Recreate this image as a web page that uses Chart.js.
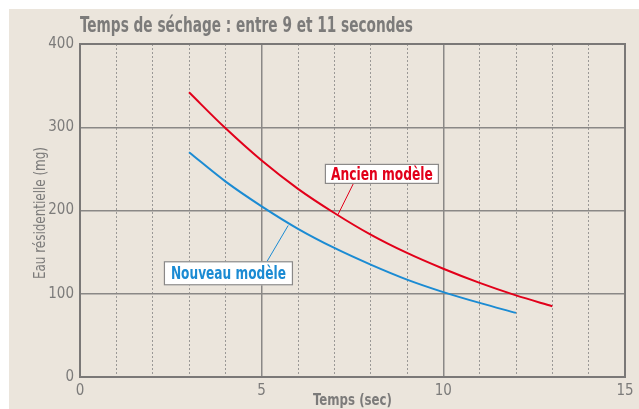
<!DOCTYPE html>
<html><head><meta charset="utf-8">
<script src="https://cdn.jsdelivr.net/npm/chart.js@4"></script>
<style>html,body{margin:0;padding:0;background:#fff}#wrap{width:639px;height:409px}</style>
</head><body><div id="wrap"><canvas id="c" width="639" height="409"></canvas></div>
<script>
const titleText = "Temps de séchage : entre 9 et 11 secondes";
const xTitle = "Temps (sec)";
const yTitle = "Eau résidentielle (mg)";
const xTicks = [0, 5, 10, 15];
const yTicks = [0, 100, 200, 300, 400];
const ancienX = [3, 4, 5, 6, 7, 8, 9, 10, 11, 12, 13];
const ancienY = [342, 299, 260, 226, 197, 171, 149, 130, 113, 98, 85];
const nouveauX = [3, 4, 5, 6, 7, 8, 9, 10, 11, 12];
const nouveauY = [270, 235, 205, 178, 155, 135, 117, 102, 89, 77];
const labelAncien = "Ancien modèle";
const labelNouveau = "Nouveau modèle";

const FONT = "'DejaVu Sans Condensed','Liberation Sans',sans-serif";
const RED = '#e2001a', BLUE = '#1b8bd3', GRAY = '#7c7b7a', BG = '#ebe5dc';

// draw text horizontally compressed to a given width
function narrowText(c, text, x, y, width, align) {
  const w = c.measureText(text).width;
  const sx = Math.min(1, width / w);
  c.save();
  c.translate(x, y);
  c.scale(sx, 1);
  c.textAlign = align;
  c.fillText(text, 0, 0);
  c.restore();
}

const bgPlugin = {
  id: 'bg',
  beforeDraw(chart) {
    const c = chart.ctx;
    c.save();
    c.fillStyle = '#fff'; c.fillRect(0, 0, chart.width, chart.height);
    c.fillStyle = BG; c.fillRect(9, 9, chart.width - 9, chart.height - 9);
    c.fillStyle = GRAY;
    c.font = "bold 21px " + FONT;
    c.textBaseline = 'alphabetic';
    narrowText(c, titleText, 80, 32, 333, 'left');
    // axis titles
    const a = chart.chartArea;
    c.font = "bold 15px " + FONT;
    c.textBaseline = 'middle';
    narrowText(c, xTitle, (a.left + a.right) / 2, 401, 79, 'center');
    c.save();
    c.translate(41, 213);
    c.rotate(-Math.PI / 2);
    c.font = "15px " + FONT;
    narrowText(c, yTitle, 0, 0, 132, 'center');
    c.restore();
    c.restore();
  },
  afterDatasetsDraw(chart) {
    const c = chart.ctx, xs = chart.scales.x, ys = chart.scales.y;
    const a = chart.chartArea;
    c.save();
    c.strokeStyle = '#7a7877'; c.lineWidth = 2;
    c.strokeRect(a.left, a.top, a.right - a.left, a.bottom - a.top);
    function box(text, color, bx, by, bw, bh, tw, lx1, ly1, lx2, ly2) {
      c.strokeStyle = color; c.lineWidth = 1;
      c.beginPath(); c.moveTo(lx1, ly1); c.lineTo(lx2, ly2); c.stroke();
      c.fillStyle = '#fff'; c.fillRect(bx, by, bw, bh);
      c.strokeStyle = '#8a8887'; c.lineWidth = 1.2; c.strokeRect(bx + 0.5, by + 0.5, bw - 1, bh - 1);
      c.fillStyle = color; c.font = "bold 18px " + FONT;
      c.textBaseline = 'middle';
      narrowText(c, text, bx + bw / 2, by + bh / 2 + 1, tw, 'center');
    }
    const ax = xs.getPixelForValue(6.74), ay = ys.getPixelForValue(256);
    box(labelAncien, RED, ax, ay, 114, 20, 102,
        xs.getPixelForValue(7.1), ys.getPixelForValue(195), xs.getPixelForValue(7.52), ay + 20);
    const nx = xs.getPixelForValue(2.31), ny = ys.getPixelForValue(139);
    box(labelNouveau, BLUE, nx, ny, 129, 24, 115,
        xs.getPixelForValue(5.73), ys.getPixelForValue(182), xs.getPixelForValue(5.15), ny);
    c.restore();
  }
};

new Chart(document.getElementById('c'), {
  type: 'scatter',
  data: {
    datasets: [
      { label: labelAncien, data: ancienX.map((x, i) => ({ x, y: ancienY[i] })), showLine: true,
        borderColor: RED, borderWidth: 2, pointRadius: 0, tension: 0.4, cubicInterpolationMode: 'monotone' },
      { label: labelNouveau, data: nouveauX.map((x, i) => ({ x, y: nouveauY[i] })), showLine: true,
        borderColor: BLUE, borderWidth: 2, pointRadius: 0, tension: 0.4, cubicInterpolationMode: 'monotone' }
    ]
  },
  options: {
    responsive: false, animation: false, devicePixelRatio: 1,
    layout: { padding: { left: 0, right: 14, top: 44, bottom: 0 } },
    plugins: { legend: { display: false }, tooltip: { enabled: false }, title: { display: false } },
    scales: {
      x: {
        type: 'linear', min: 0, max: 15,
        afterBuildTicks(s) { s.ticks = Array.from({ length: 16 }, (_, i) => ({ value: i })); },
        afterFit(s) { s.height = 32; },
        ticks: { color: GRAY, font: { family: FONT, size: 15 }, padding: 5, maxRotation: 0, autoSkip: false,
          callback: v => xTicks.includes(v) ? String(v) : '' },
        grid: { drawTicks: false, color: ctx => ctx.tick && ctx.tick.value % 5 === 0 ? '#8a8886' : '#9a9896',
          lineWidth: ctx => ctx.tick && ctx.tick.value % 5 === 0 ? 1.5 : 1 },
        border: { display: false, dash: ctx => ctx.tick && ctx.tick.value % 5 === 0 ? [] : [2, 2] },
        title: { display: false }
      },
      y: {
        type: 'linear', min: 0, max: 400,
        afterBuildTicks(s) { s.ticks = yTicks.map(v => ({ value: v })); },
        afterFit(s) { s.width = 80; },
        ticks: { color: GRAY, font: { family: FONT, size: 15 }, padding: 6 },
        grid: { drawTicks: false, color: '#8a8886', lineWidth: 1.5 },
        border: { display: false },
        title: { display: false }
      }
    }
  },
  plugins: [bgPlugin]
});
</script></body></html>
